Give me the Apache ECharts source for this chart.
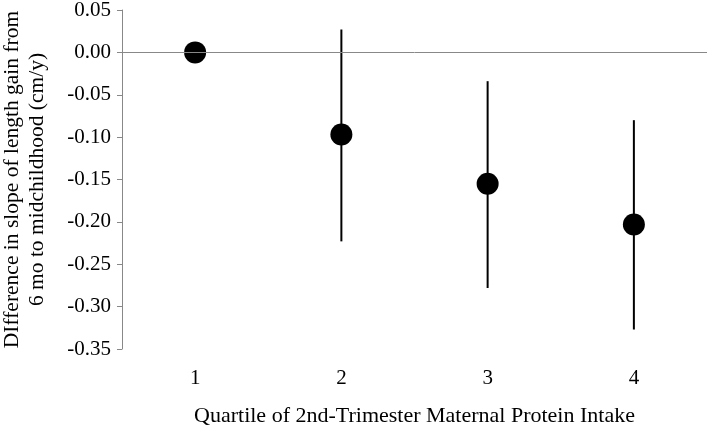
<!DOCTYPE html>
<html>
<head>
<meta charset="utf-8">
<script src="https://cdn.jsdelivr.net/npm/echarts@6/dist/echarts.min.js"></script>
<style>
html,body{margin:0;padding:0;background:#fff;}
#chart{width:709px;height:431px;}
</style>
</head>
<body>
<div id="chart"></div>
<script>
var categories = ['1', '2', '3', '4'];
var means = [0, -0.097, -0.155, -0.203];
var upper = [0, 0.027, -0.034, -0.080];
var lower = [0, -0.223, -0.278, -0.327];

var fontFamily = 'Liberation Serif';

var chartObj = {
    myChart : echarts.init(document.getElementById('chart')),
    option : null,
    init : function(){
        var that = this;
        that.render();
    },
    render : function(){
        var that = this;
        var errData = categories.map(function(c, i){
            return [i, lower[i], upper[i]];
        });
        that.option = {
            animation : false,
            textStyle : { fontFamily : fontFamily, color : '#000' },
            grid : {
                left : 122,
                right : 2,
                top : 10,
                bottom : 82,
                containLabel : false,
                outerBoundsMode : 'none'
            },
            xAxis : {
                type : 'category',
                data : categories,
                boundaryGap : true,
                position : 'bottom',
                axisLine : { show : false, onZero : false },
                axisTick : { show : false },
                axisLabel : {
                    margin : 19,
                    color : '#000',
                    fontSize : 21,
                    fontFamily : fontFamily
                },
                name : 'Quartile of 2nd-Trimester Maternal Protein Intake',
                nameLocation : 'middle',
                nameGap : 56,
                nameTextStyle : {
                    color : '#000',
                    fontSize : 22,
                    fontFamily : fontFamily
                }
            },
            yAxis : {
                type : 'value',
                min : -0.35,
                max : 0.05,
                interval : 0.05,
                splitLine : { show : false },
                axisLine : { show : true, lineStyle : { color : '#888', width : 1 } },
                axisTick : { show : true, length : 5, lineStyle : { color : '#888' } },
                axisLabel : {
                    margin : 11,
                    color : '#000',
                    fontSize : 21,
                    fontFamily : fontFamily,
                    formatter : function(v){ return '{n|' + v.toFixed(2) + '}'; },
                    rich : {
                        n : {
                            fontFamily : fontFamily,
                            fontSize : 21,
                            color : '#000'
                        }
                    }
                },
                name : 'DIfference in slope of length gain from\n6 mo to midchildhood (cm/y)',
                nameLocation : 'middle',
                nameGap : 72,
                nameTextStyle : {
                    color : '#000',
                    fontSize : 21.5,
                    lineHeight : 25,
                    fontFamily : fontFamily
                }
            },
            series : [
                {
                    type : 'custom',
                    data : errData,
                    silent : true,
                    z : 2,
                    renderItem : function(params, api){
                        var lo = api.coord([api.value(0), api.value(1)]);
                        var hi = api.coord([api.value(0), api.value(2)]);
                        return {
                            type : 'line',
                            shape : { x1 : lo[0], y1 : lo[1], x2 : hi[0], y2 : hi[1] },
                            style : { stroke : '#000', lineWidth : 2 }
                        };
                    },
                    markLine : {
                        silent : true,
                        symbol : ['none', 'none'],
                        label : { show : false },
                        lineStyle : { color : '#888', width : 1, type : 'solid' },
                        data : [{ yAxis : 0 }]
                    }
                },
                {
                    type : 'scatter',
                    data : means,
                    symbol : 'circle',
                    symbolSize : 22,
                    z : 3,
                    itemStyle : { color : '#000', opacity : 1 }
                }
            ]
        };
        that.myChart.setOption(that.option);
    }
};
chartObj.init();
</script>
</body>
</html>
